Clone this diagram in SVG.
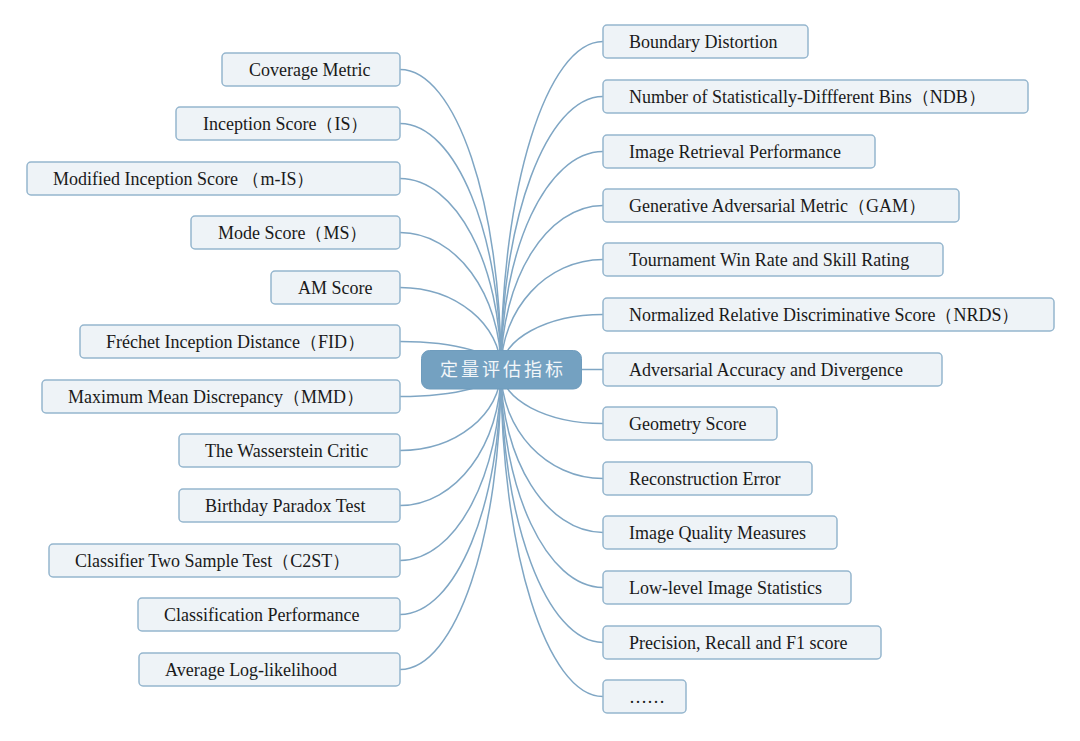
<svg xmlns="http://www.w3.org/2000/svg" width="1080" height="741" viewBox="0 0 1080 741">
<style>
.bg{fill:#ffffff}
.conn path{fill:none;stroke:#7fa6c4;stroke-width:1.5}
.box{fill:#eef3f7;stroke:#95b6ce;stroke-width:1.5}
.lbl{font-family:"Liberation Serif","Times New Roman",serif;font-size:18px;fill:#1a1a1a}
.root{fill:#74a1c1;stroke:#6f9cbd;stroke-width:1}
.rootlbl{font-family:"Noto Sans CJK SC",sans-serif;font-size:18px;fill:#f2f6f9;letter-spacing:3px}
</style>
<rect class="bg" x="0" y="0" width="1080" height="741"/>
<g id="connectors" class="conn">
<path d="M400,69.5 C455.8,69.5 501,204.1 501,370"/>
<path d="M400,123.5 C455.8,123.5 501,233.9 501,370"/>
<path d="M400,178.5 C455.8,178.5 501,264.3 501,370"/>
<path d="M400,232.5 C455.8,232.5 501,294.1 501,370"/>
<path d="M400,287.5 C455.8,287.5 501,324.5 501,370"/>
<path d="M400,341.5 C455.8,341.5 501,354.3 501,370"/>
<path d="M400,396.5 C455.8,396.5 501,384.6 501,370"/>
<path d="M400,450.5 C455.8,450.5 501,414.4 501,370"/>
<path d="M400,505.5 C455.8,505.5 501,444.8 501,370"/>
<path d="M400,560.5 C455.8,560.5 501,475.2 501,370"/>
<path d="M400,614.5 C455.8,614.5 501,505.0 501,370"/>
<path d="M400,669.5 C455.8,669.5 501,535.3 501,370"/>
<path d="M603,41.5 C546.7,41.5 501,188.7 501,370"/>
<path d="M603,96.5 C546.7,96.5 501,219.0 501,370"/>
<path d="M603,151.5 C546.7,151.5 501,249.4 501,370"/>
<path d="M603,205.5 C546.7,205.5 501,279.2 501,370"/>
<path d="M603,259.5 C546.7,259.5 501,309.0 501,370"/>
<path d="M603,314.5 C546.7,314.5 501,339.4 501,370"/>
<path d="M603,369.5 L501,369.5"/>
<path d="M603,423.5 C546.7,423.5 501,399.5 501,370"/>
<path d="M603,478.5 C546.7,478.5 501,429.9 501,370"/>
<path d="M603,532.5 C546.7,532.5 501,459.7 501,370"/>
<path d="M603,587.5 C546.7,587.5 501,490.1 501,370"/>
<path d="M603,642.5 C546.7,642.5 501,520.4 501,370"/>
<path d="M603,696.5 C546.7,696.5 501,550.2 501,370"/>
</g>
<g id="root">
<rect class="root" x="421.5" y="350.5" width="160" height="38.5" rx="8"/>
<text class="rootlbl" x="503" y="376" text-anchor="middle">定量评估指标</text>
</g>
<g id="n-coverage"><rect class="box" x="222" y="53" width="178" height="33" rx="4"/><text class="lbl" x="249" y="75.5">Coverage Metric</text></g>
<g id="n-is"><rect class="box" x="176" y="107" width="224" height="33" rx="4"/><text class="lbl" x="203" y="129.5">Inception Score（IS）</text></g>
<g id="n-mis"><rect class="box" x="27" y="162" width="373" height="33" rx="4"/><text class="lbl" x="53" y="184.5">Modified Inception Score （m-IS）</text></g>
<g id="n-ms"><rect class="box" x="191" y="216" width="209" height="33" rx="4"/><text class="lbl" x="218" y="238.5">Mode Score（MS）</text></g>
<g id="n-am"><rect class="box" x="271" y="271" width="129" height="33" rx="4"/><text class="lbl" x="298" y="293.5">AM Score</text></g>
<g id="n-fid"><rect class="box" x="80" y="325" width="320" height="33" rx="4"/><text class="lbl" x="106" y="347.5">Fréchet Inception Distance（FID）</text></g>
<g id="n-mmd"><rect class="box" x="42" y="380" width="358" height="33" rx="4"/><text class="lbl" x="68" y="402.5">Maximum Mean Discrepancy（MMD）</text></g>
<g id="n-wc"><rect class="box" x="179" y="434" width="221" height="33" rx="4"/><text class="lbl" x="205" y="456.5">The Wasserstein Critic</text></g>
<g id="n-bpt"><rect class="box" x="179" y="489" width="221" height="33" rx="4"/><text class="lbl" x="205" y="511.5">Birthday Paradox Test</text></g>
<g id="n-c2st"><rect class="box" x="49" y="544" width="351" height="33" rx="4"/><text class="lbl" x="75" y="566.5">Classifier Two Sample Test（C2ST）</text></g>
<g id="n-cp"><rect class="box" x="138" y="598" width="262" height="33" rx="4"/><text class="lbl" x="164" y="620.5">Classification Performance</text></g>
<g id="n-all"><rect class="box" x="139" y="653" width="261" height="33" rx="4"/><text class="lbl" x="165" y="675.5">Average Log-likelihood</text></g>
<g id="n-bd"><rect class="box" x="603" y="25" width="205" height="33" rx="4"/><text class="lbl" x="629" y="47.5">Boundary Distortion</text></g>
<g id="n-ndb"><rect class="box" x="603" y="80" width="425" height="33" rx="4"/><text class="lbl" x="629" y="102.5">Number of Statistically-Diffferent Bins（NDB）</text></g>
<g id="n-irp"><rect class="box" x="603" y="135" width="272" height="33" rx="4"/><text class="lbl" x="629" y="157.5">Image Retrieval Performance</text></g>
<g id="n-gam"><rect class="box" x="603" y="189" width="356" height="33" rx="4"/><text class="lbl" x="629" y="211.5">Generative Adversarial Metric（GAM）</text></g>
<g id="n-tw"><rect class="box" x="603" y="243" width="340" height="33" rx="4"/><text class="lbl" x="629" y="265.5">Tournament Win Rate and Skill Rating</text></g>
<g id="n-nrds"><rect class="box" x="603" y="298" width="451" height="33" rx="4"/><text class="lbl" x="629" y="320.5">Normalized Relative Discriminative Score（NRDS）</text></g>
<g id="n-aad"><rect class="box" x="603" y="353" width="339" height="33" rx="4"/><text class="lbl" x="629" y="375.5">Adversarial Accuracy and Divergence</text></g>
<g id="n-gs"><rect class="box" x="603" y="407" width="174" height="33" rx="4"/><text class="lbl" x="629" y="429.5">Geometry Score</text></g>
<g id="n-re"><rect class="box" x="603" y="462" width="209" height="33" rx="4"/><text class="lbl" x="629" y="484.5">Reconstruction Error</text></g>
<g id="n-iqm"><rect class="box" x="603" y="516" width="234" height="33" rx="4"/><text class="lbl" x="629" y="538.5">Image Quality Measures</text></g>
<g id="n-lis"><rect class="box" x="603" y="571" width="248" height="33" rx="4"/><text class="lbl" x="629" y="593.5">Low-level Image Statistics</text></g>
<g id="n-prf"><rect class="box" x="603" y="626" width="278" height="33" rx="4"/><text class="lbl" x="629" y="648.5">Precision, Recall and F1 score</text></g>
<g id="n-more"><rect class="box" x="603" y="680" width="83" height="33" rx="4"/><text class="lbl" x="629" y="702.5">……</text></g>
</svg>
